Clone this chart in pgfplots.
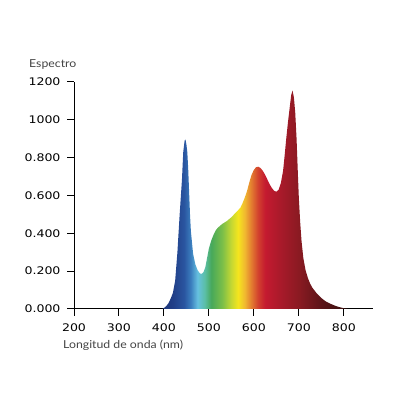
\documentclass[border=0pt]{standalone}
\usepackage{fontspec}
\setmainfont{Lato}
\newfontfamily\tickfont[FakeStretch=1.2]{DejaVu Sans}
\newfontfamily\labfont[FakeStretch=1.12]{Lato}
\usepackage{pgfplots}
\pgfplotsset{compat=1.18}

% spectrum colours, x = 396 nm at 25bp ... 810 nm at 75bp
\definecolor{c396}{HTML}{1C3578}
\definecolor{c420}{HTML}{213F88}
\definecolor{c445}{HTML}{2A55A0}
\definecolor{c460}{HTML}{3B7EBE}
\definecolor{c475}{HTML}{66C0E0}
\definecolor{c490}{HTML}{5BBFA8}
\definecolor{c505}{HTML}{47A85A}
\definecolor{c530}{HTML}{7CBF48}
\definecolor{c550}{HTML}{C6D832}
\definecolor{c565}{HTML}{F5E51E}
\definecolor{c580}{HTML}{F0B830}
\definecolor{c595}{HTML}{E27A30}
\definecolor{c610}{HTML}{D2402E}
\definecolor{c625}{HTML}{C41A30}
\definecolor{c660}{HTML}{A81A2A}
\definecolor{c700}{HTML}{8A1A22}
\definecolor{c750}{HTML}{5C1418}
\definecolor{c810}{HTML}{36100E}
\definecolor{labgray}{HTML}{444444}

\pgfdeclarehorizontalshading{spectrum}{100bp}{
  color(0bp)=(c396); color(25bp)=(c396); color(27.9bp)=(c420);
  color(30.9bp)=(c445); color(32.7bp)=(c460); color(34.5bp)=(c475);
  color(36.4bp)=(c490); color(38.2bp)=(c505); color(41.2bp)=(c530);
  color(43.6bp)=(c550); color(45.4bp)=(c565); color(47.2bp)=(c580);
  color(49.0bp)=(c595); color(50.8bp)=(c610); color(52.7bp)=(c625);
  color(56.9bp)=(c660); color(61.7bp)=(c700); color(67.8bp)=(c750);
  color(75bp)=(c810); color(100bp)=(c810)}

\begin{document}
\begin{tikzpicture}
\path[use as bounding box] (0,0) rectangle (400bp,400bp);
\begin{axis}[
    at={(74bp,91bp)}, anchor=south west,
    scale only axis,
    width=299bp, height=227bp,
    xmin=200, xmax=865,
    ymin=0, ymax=1.2,
    axis x line*=bottom,
    axis y line*=left,
    axis line style={line width=1bp, black},
    tick align=outside,
    major tick length=7bp,
    tick style={line width=1bp, black},
    xtick={200,300,400,500,600,700,800},
    xticklabels={200,300,400,500,600,700,800},
    ytick={0,0.2,0.4,0.6,0.8,1,1.2},
    yticklabels={0.000,0.200,0.400,0.600,0.800,1000,1200},
    tick label style={font=\tickfont\fontsize{10.5}{12}\selectfont, black},
    xticklabel style={yshift=-4bp},
    yticklabel style={xshift=-3bp},
    xlabel={Longitud de onda (nm)},
    ylabel={Espectro},
    label style={font=\labfont\fontsize{11}{13}\selectfont, labgray, inner xsep=0pt},
    xlabel style={at={(axis description cs:-0.0368,-0.1586)}, anchor=west},
    ylabel style={rotate=-90, at={(axis description cs:-0.1505,1.075)}, anchor=west},
  ]
  \addplot[draw=none, shading=spectrum] coordinates {
    (396,0) (400,0.005) (405,0.015) (410,0.03) (415,0.055) (420,0.085)
    (425,0.15) (430,0.30) (435,0.50) (440,0.68) (443,0.83) (446,0.89)
    (448,0.895) (450,0.87) (452,0.83) (454,0.74) (456,0.62) (458,0.50)
    (460,0.41) (465,0.29) (470,0.235) (475,0.205) (480,0.188) (484,0.186)
    (488,0.195) (492,0.22) (496,0.27) (500,0.32) (505,0.36) (510,0.39)
    (515,0.415) (520,0.43) (530,0.45) (540,0.465) (550,0.485) (560,0.51)
    (570,0.535) (575,0.56) (580,0.59) (585,0.625) (590,0.67) (595,0.71)
    (600,0.735) (605,0.75) (610,0.752) (615,0.745) (620,0.73) (625,0.71)
    (630,0.685) (635,0.66) (640,0.64) (645,0.625) (650,0.62) (655,0.63)
    (660,0.665) (665,0.73) (668,0.80) (672,0.90) (676,0.99) (680,1.07)
    (683,1.13) (686,1.155) (689,1.12) (692,1.04) (695,0.90) (698,0.71)
    (700,0.59) (703,0.46) (706,0.36) (710,0.27) (715,0.205) (720,0.165)
    (725,0.135) (730,0.113) (740,0.082) (750,0.058) (760,0.04) (770,0.028)
    (780,0.018) (790,0.01) (800,0.004) (810,0)
  } \closedcycle;
\end{axis}
\end{tikzpicture}
\end{document}
